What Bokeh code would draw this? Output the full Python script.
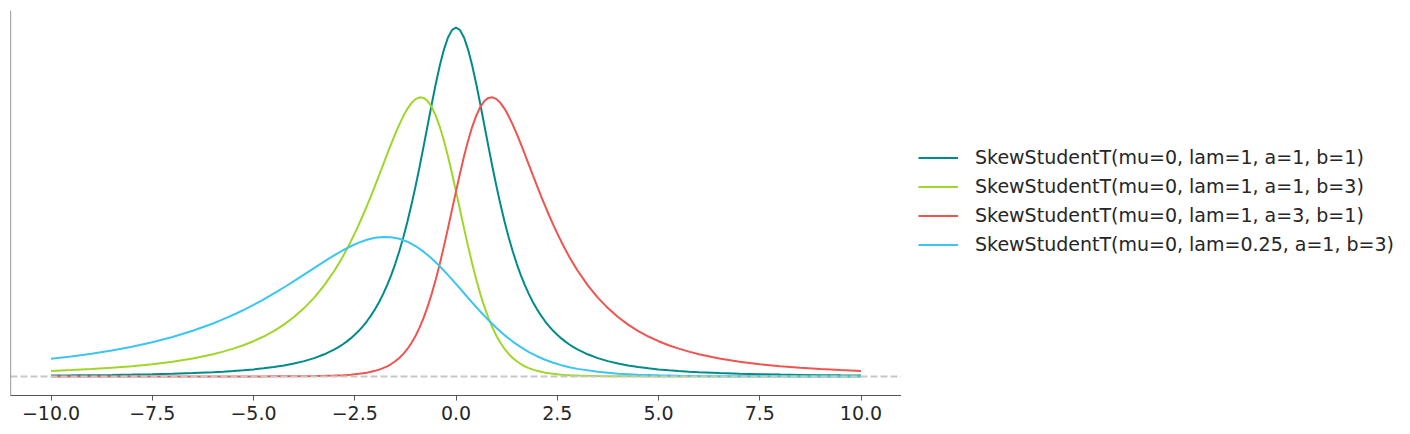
from bokeh.plotting import figure
from bokeh.layouts import row
from bokeh.models import (Legend, LegendItem, Span, FixedTicker,
                          CustomJSTickFormatter, Range1d)
from bokeh.embed import file_html
from bokeh.resources import INLINE

# ---------------- data ----------------
x_main = [-10, -9.5, -9, -8.5, -8, -7.5, -7, -6.5,
          -6, -5.75, -5.5, -5.25, -5, -4.75, -4.5, -4.25, -4, -3.75, -3.5, -3.25,
          -3.0, -2.9, -2.8, -2.7, -2.6, -2.5, -2.4, -2.3, -2.2, -2.1,
          -2.0, -1.9, -1.8, -1.7, -1.6, -1.5, -1.4, -1.3, -1.2, -1.1,
          -1.0, -0.9, -0.8, -0.7, -0.6, -0.5, -0.4, -0.3, -0.2, -0.1,
          0,
          0.1, 0.2, 0.3, 0.4, 0.5, 0.6, 0.7, 0.8, 0.9, 1.0,
          1.1, 1.2, 1.3, 1.4, 1.5, 1.6, 1.7, 1.8, 1.9, 2.0,
          2.1, 2.2, 2.3, 2.4, 2.5, 2.6, 2.7, 2.8, 2.9, 3.0,
          3.25, 3.5, 3.75, 4, 4.25, 4.5, 4.75, 5, 5.25, 5.5, 5.75, 6,
          6.5, 7, 7.5, 8, 8.5, 9, 9.5, 10]

# SkewStudentT(mu=0, lam=1, a=1, b=1)
pdf_a1_b1 = [0.000971, 0.001129, 0.001323, 0.001563, 0.001865, 0.002249, 0.002746, 0.003397,
             0.004269, 0.004817, 0.005460, 0.006221, 0.007128, 0.008215, 0.009528, 0.011128,
             0.013095, 0.015534, 0.018590, 0.022459,
             0.027410, 0.029773, 0.032397, 0.035316, 0.038570, 0.042201, 0.046260, 0.050805,
             0.055901, 0.061619, 0.068041, 0.075258, 0.083369, 0.092477, 0.102695, 0.114135,
             0.126899, 0.141078, 0.156734, 0.173877, 0.192450, 0.212296, 0.233128, 0.254508,
             0.275824, 0.296296, 0.315010, 0.330963, 0.343206, 0.350918,
             0.353553,
             0.350918, 0.343206, 0.330963, 0.315010, 0.296296, 0.275824, 0.254508, 0.233128,
             0.212296, 0.192450, 0.173877, 0.156734, 0.141078, 0.126899, 0.114135, 0.102695,
             0.092477, 0.083369, 0.075258, 0.068041, 0.061619, 0.055901, 0.050805, 0.046260,
             0.042201, 0.038570, 0.035316, 0.032397, 0.029773, 0.027410,
             0.022459, 0.018590, 0.015534, 0.013095, 0.011128, 0.009528, 0.008215, 0.007128,
             0.006221, 0.005460, 0.004817, 0.004269,
             0.003397, 0.002746, 0.002249, 0.001865, 0.001563, 0.001323, 0.001129, 0.000971]

# SkewStudentT(mu=0, lam=1, a=1, b=3)
pdf_a1_b3 = [0.005548, 0.006417, 0.007475, 0.008774, 0.010383, 0.012400, 0.014958, 0.018242,
             0.022516, 0.025136, 0.028159, 0.031657, 0.035721, 0.040460, 0.046006, 0.052521,
             0.060188, 0.069234, 0.079925, 0.092545,
             0.107412, 0.114054, 0.121119, 0.128620, 0.136569, 0.144967, 0.153812, 0.163089,
             0.172775, 0.182827, 0.193186, 0.203772, 0.214477, 0.225160, 0.235656, 0.245760,
             0.255232, 0.263799, 0.271163, 0.277004, 0.280997, 0.282837, 0.282251, 0.279032,
             0.273057, 0.264318, 0.252929, 0.239137, 0.223312, 0.205921,
             0.187500,
             0.168609, 0.149790, 0.131534, 0.114245, 0.098227, 0.083679, 0.070700, 0.059303,
             0.049436, 0.040997, 0.033856, 0.027866, 0.022881, 0.018756, 0.015360, 0.012575,
             0.010297, 0.008438, 0.006922, 0.005687, 0.004680, 0.003860, 0.003190, 0.002643,
             0.002195, 0.001828, 0.001526, 0.001277, 0.001072, 0.000903,
             0.000594, 0.000398, 0.000270, 0.000187, 0.000131, 0.000093, 0.000067, 0.000049,
             0.000036, 0.000027, 0.000021, 0.000016,
             0.000009, 0.000006, 0.000004, 0.000002, 0.000002, 0.000001, 0.000001, 0.000001]

# SkewStudentT(mu=0, lam=1, a=3, b=1)
pdf_a3_b1 = [0.000001, 0.000001, 0.000001, 0.000002, 0.000002, 0.000004, 0.000006, 0.000009,
             0.000016, 0.000021, 0.000027, 0.000036, 0.000049, 0.000067, 0.000093, 0.000131,
             0.000187, 0.000270, 0.000398, 0.000594,
             0.000903, 0.001072, 0.001277, 0.001526, 0.001828, 0.002195, 0.002643, 0.003190,
             0.003860, 0.004680, 0.005687, 0.006922, 0.008438, 0.010297, 0.012575, 0.015360,
             0.018756, 0.022881, 0.027866, 0.033856, 0.040997, 0.049436, 0.059303, 0.070700,
             0.083679, 0.098227, 0.114245, 0.131534, 0.149790, 0.168609,
             0.187500,
             0.205921, 0.223312, 0.239137, 0.252929, 0.264318, 0.273057, 0.279032, 0.282251,
             0.282837, 0.280997, 0.277004, 0.271163, 0.263799, 0.255232, 0.245760, 0.235656,
             0.225160, 0.214477, 0.203772, 0.193186, 0.182827, 0.172775, 0.163089, 0.153812,
             0.144967, 0.136569, 0.128620, 0.121119, 0.114054, 0.107412,
             0.092545, 0.079925, 0.069234, 0.060188, 0.052521, 0.046006, 0.040460, 0.035721,
             0.031657, 0.028159, 0.025136, 0.022516,
             0.018242, 0.014958, 0.012400, 0.010383, 0.008774, 0.007475, 0.006417, 0.005548]

x_wide = [-10, -9.5, -9, -8.5, -8, -7.5, -7, -6.5,
          -6.0, -5.8, -5.6, -5.4, -5.2, -5.0, -4.8, -4.6, -4.4, -4.2,
          -4.0, -3.8, -3.6, -3.4, -3.2, -3.0, -2.8, -2.6, -2.4, -2.2,
          -2.0, -1.8, -1.6, -1.4, -1.2, -1.0, -0.8, -0.6, -0.4, -0.2,
          0, 0.2, 0.4, 0.6, 0.8, 1.0, 1.2, 1.4, 1.6, 1.8,
          2.0, 2.2, 2.4, 2.6, 2.8, 3.0,
          3.5, 4, 4.5, 5, 5.5, 6, 6.5, 7, 7.5, 8, 8.5, 9, 9.5, 10]

# SkewStudentT(mu=0, lam=0.25, a=1, b=3)
pdf_l025_a1_b3 = [0.017861, 0.020230, 0.023003, 0.026261, 0.030094, 0.034617, 0.039963, 0.046273,
                  0.053706, 0.057027, 0.060560, 0.064310, 0.068285, 0.072484, 0.076906, 0.081545,
                  0.086388, 0.091414,
                  0.096593, 0.101886, 0.107239, 0.112580, 0.117828, 0.122880, 0.127616, 0.131900,
                  0.135582, 0.138502,
                  0.140499, 0.141419, 0.141126, 0.139516, 0.136529, 0.132159, 0.126465, 0.119569,
                  0.111656, 0.102961,
                  0.093750, 0.084305, 0.074895, 0.065767, 0.057123, 0.049114, 0.041840, 0.035350,
                  0.029652, 0.024718,
                  0.020499, 0.016928, 0.013933, 0.011441, 0.009378, 0.007680,
                  0.004660, 0.002844, 0.001754, 0.001098, 0.000698, 0.000451, 0.000297, 0.000199,
                  0.000135, 0.000094, 0.000066, 0.000047, 0.000034, 0.000025]

labels = ["SkewStudentT(mu=0, lam=1, a=1, b=1)",
          "SkewStudentT(mu=0, lam=1, a=1, b=3)",
          "SkewStudentT(mu=0, lam=1, a=3, b=1)",
          "SkewStudentT(mu=0, lam=0.25, a=1, b=3)"]
colors = ["#008b8b", "#a0d62a", "#f0544f", "#3bc6f2"]
x_ticks = [-10, -7.5, -5, -2.5, 0, 2.5, 5, 7.5, 10]

series = [(x_main, pdf_a1_b1), (x_main, pdf_a1_b3), (x_main, pdf_a3_b1),
          (x_wide, pdf_l025_a1_b3)]

# ---------------- main figure ----------------
FONT = "DejaVu Sans"
p = figure(frame_width=891, frame_height=385, output_backend="svg",
           toolbar_location=None, y_axis_location=None,
           x_range=Range1d(-11, 11), y_range=Range1d(-0.0193, 0.3708),
           min_border_left=10, min_border_top=10, min_border_right=0,
           min_border_bottom=0)
p.outline_line_color = None
p.xgrid.visible = False
p.ygrid.visible = False
p.background_fill_color = "white"
p.border_fill_color = "white"

# zero reference line
p.add_layout(Span(location=0, dimension="width", line_color="#c8c8c8",
                  line_width=2, line_dash="7 3"))
# left spine
p.add_layout(Span(location=-11, dimension="height", line_color="#555555",
                  line_width=1.2))

for (xs, ys), col in zip(series, colors):
    p.line(xs, ys, line_color=col, line_width=2)

ax = p.xaxis[0]
ax.ticker = FixedTicker(ticks=x_ticks)
ax.formatter = CustomJSTickFormatter(
    code="return (tick < 0 ? '\u2212' : '') + Math.abs(tick).toFixed(1);")
ax.axis_line_color = "#555555"
ax.axis_line_width = 1.2
ax.major_tick_line_color = "#555555"
ax.major_tick_out = 5
ax.major_tick_in = 0
ax.minor_tick_line_color = None
ax.major_label_text_font = FONT
ax.major_label_text_font_size = "19px"
ax.major_label_text_color = "#262626"
ax.major_label_standoff = 5

# ---------------- legend panel (right of the axes) ----------------
# The same series are drawn here outside the visible range: only their
# legend entries show.
pl = figure(width=509, height=434, output_backend="svg", toolbar_location=None,
            x_axis_location=None, y_axis_location=None,
            x_range=Range1d(100, 101), y_range=Range1d(100, 101),
            min_border_left=0, min_border_right=0, min_border_top=0,
            min_border_bottom=0)
pl.outline_line_color = None
pl.xgrid.visible = False
pl.ygrid.visible = False
pl.border_fill_color = "white"
pl.background_fill_color = "white"

items = []
for (xs, ys), lab, col in zip(series, labels, colors):
    r = pl.line(xs, ys, line_color=col, line_width=2)
    items.append(LegendItem(label=lab, renderers=[r]))

legend = Legend(items=items, location=(17, 148.5))
legend.label_text_font = FONT
legend.label_text_font_size = "19px"
legend.label_text_color = "#262626"
legend.glyph_width = 40
legend.glyph_height = 29
legend.label_height = 29
legend.label_standoff = 17
legend.spacing = 0
legend.padding = 0
legend.margin = 0
legend.border_line_color = None
legend.background_fill_alpha = 0
pl.add_layout(legend)

layout = row(p, pl, spacing=0)
open("out.html", "w").write(file_html(layout, INLINE))
